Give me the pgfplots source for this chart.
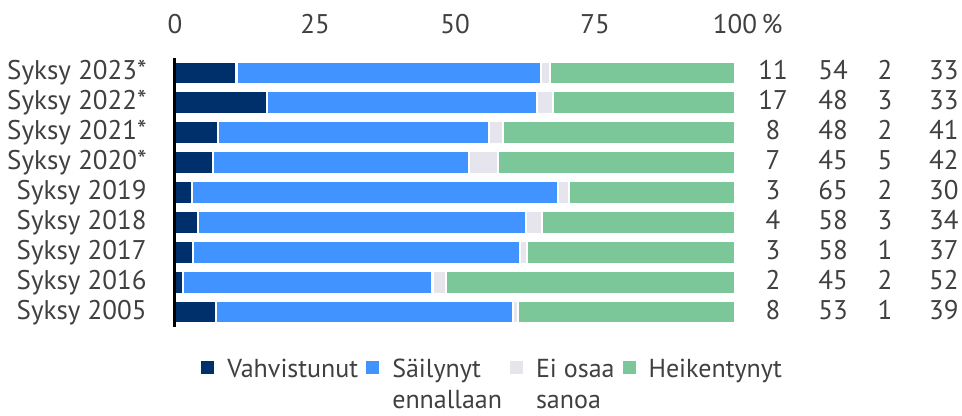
\documentclass[border=0pt]{standalone}
\usepackage{fontspec}
\setmainfont{PT Sans}
\usepackage{pgfplots}
\pgfplotsset{compat=1.18}
\definecolor{cdark}{HTML}{00306B}
\definecolor{cblue}{HTML}{4193FF}
\definecolor{cgray}{HTML}{E6E4EC}
\definecolor{cgreen}{HTML}{7CC79A}
\definecolor{ctext}{HTML}{404040}

\begin{document}
\begin{tikzpicture}[font=\fontsize{13.5}{15.5}\selectfont, text=ctext]
\path[use as bounding box] (-87.5pt,-44.5pt) rectangle (393.5pt,163.5pt);
\begin{axis}[
  at={(0,0)}, anchor=south west,
  scale only axis, width=280pt, height=134.5pt,
  xbar stacked, bar width=11.6pt,
  xmin=0, xmax=100, ymin=-0.5, ymax=8.5,
  clip=false, axis on top,
  axis line style={draw=none},
  major tick length=0pt,
  xtick={0,25,50,75,100},
  xticklabels={0,25,50,75,100\rlap{\,\%}},
  xticklabel pos=upper,
  xticklabel style={anchor=base, inner sep=0pt, yshift=12.5pt},
  extra x ticks={0}, extra x tick labels={},
  extra x tick style={grid=major, major grid style={black, line width=1.5pt}},
  ytick={0,...,8},
  yticklabels={Syksy 2005,Syksy 2016,Syksy 2017,Syksy 2018,Syksy 2019,Syksy 2020*,Syksy 2021*,Syksy 2022*,Syksy 2023*},
  yticklabel style={anchor=base east, inner sep=0pt, xshift=-14pt, yshift=-0.35em},
  legend columns=4,
  legend cell align=left,
  legend style={draw=none, fill=none, inner sep=0pt,
    font=\fontsize{13}{15.5}\selectfont,
    at={(axis description cs:0.0464,-0.09)}, anchor=north west,
    /tikz/every odd column/.style={column sep=4.5pt},
    /tikz/every even column/.style={column sep=2pt}},
  legend image code/.code={\fill[#1,draw=none] (0pt,-3.2pt) rectangle (6.5pt,3.3pt);},
]
\addplot[fill=cdark, draw=white, line width=1.2pt] coordinates
  {(7.3,0) (1.4,1) (3.2,2) (4.1,3) (3.0,4) (6.8,5) (7.7,6) (16.4,7) (11.0,8)};
\addlegendentry{\strut Vahvistunut}
\addplot[fill=cblue, draw=white, line width=1.2pt] coordinates
  {(53.1,0) (44.6,1) (58.4,2) (58.6,3) (65.4,4) (45.7,5) (48.4,6) (48.2,7) (54.4,8)};
\addlegendentry{\strut\smash{\begin{tabular}[t]{@{}l@{}}Säilynyt\\ennallaan\end{tabular}}}
\addplot[fill=cgray, draw=white, line width=1.2pt] coordinates
  {(0.9,0) (2.4,1) (1.3,2) (2.8,3) (2.0,4) (5.2,5) (2.5,6) (2.9,7) (1.6,8)};
\addlegendentry{\strut\smash{\begin{tabular}[t]{@{}l@{}}Ei osaa\\sanoa\end{tabular}}}
\addplot[fill=cgreen, draw=white, line width=1.2pt] coordinates
  {(38.7,0) (51.6,1) (37.1,2) (34.5,3) (29.6,4) (42.3,5) (41.4,6) (32.5,7) (33.0,8)};
\addlegendentry{\strut Heikentynyt}
\foreach \yy/\a/\b/\c/\d in {8/11/54/2/33, 7/17/48/3/33, 6/8/48/2/41, 5/7/45/5/42,
  4/3/65/2/30, 3/4/58/3/34, 2/3/58/1/37, 1/2/45/2/52, 0/8/53/1/39}{
  \edef\tmp{%
    \noexpand\node[anchor=base, inner sep=0pt, yshift=-0.35em] at (axis cs:106.8,\yy) {\a};
    \noexpand\node[anchor=base, inner sep=0pt, yshift=-0.35em] at (axis cs:117.5,\yy) {\b};
    \noexpand\node[anchor=base, inner sep=0pt, yshift=-0.35em] at (axis cs:126.8,\yy) {\c};
    \noexpand\node[anchor=base, inner sep=0pt, yshift=-0.35em] at (axis cs:137.3,\yy) {\d};}
  \tmp
}
\end{axis}
\end{tikzpicture}
\end{document}
